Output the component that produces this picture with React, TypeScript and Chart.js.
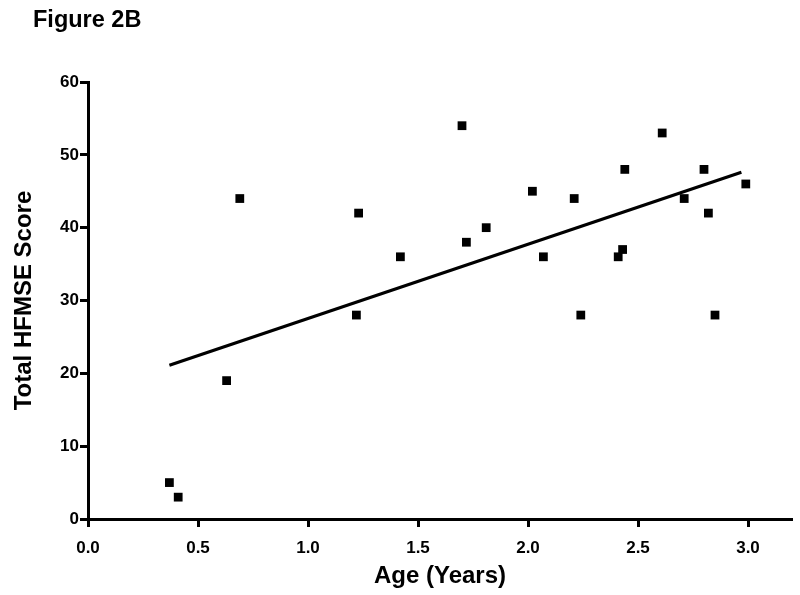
import React, { useEffect, useRef } from "react";
import { Chart, registerables } from "chart.js";

Chart.register(...registerables);

const ageYears = [0.37, 0.41, 0.63, 0.69, 1.22, 1.23, 1.42, 1.70, 1.72, 1.81, 2.02, 2.07, 2.21, 2.24, 2.41, 2.43, 2.44, 2.61, 2.71, 2.80, 2.82, 2.85, 2.99];
const hfmseScore = [5, 3, 19, 44, 28, 42, 36, 54, 38, 40, 45, 36, 44, 28, 36, 37, 48, 53, 44, 48, 42, 28, 46];
const fitLineX = [0.37, 2.97];
const fitLineY = [21.1, 47.6];

const titleText = "Figure 2B";
const xTitle = "Age (Years)";
const yTitle = "Total HFMSE Score";
const xMin = 0, xMax = 3.2, xStep = 0.5, xLastTick = 3.0;
const yMin = 0, yMax = 60, yStep = 10;

export default function App() {
  const ref = useRef<HTMLCanvasElement | null>(null);
  useEffect(() => {
    if (!ref.current) return;
    const font = "'Liberation Sans', Arial, Helvetica, sans-serif";
    Chart.defaults.font.family = font;
    Chart.defaults.color = "#000";
    const figureTitle = {
      id: "figureTitle",
      afterDraw(c: any) {
        const ctx = c.ctx;
        ctx.save();
        ctx.font = `bold 23.5px ${font}`;
        ctx.fillStyle = "#000";
        ctx.textAlign = "left";
        ctx.textBaseline = "alphabetic";
        ctx.fillText(titleText, 33, 27);
        ctx.restore();
      },
    };
    const chart = new Chart(ref.current, {
      type: "scatter",
      data: {
        datasets: [
          {
            type: "scatter",
            data: ageYears.map((x, i) => ({ x, y: hfmseScore[i] })),
            pointStyle: "rect",
            pointRadius: 6.2,
            backgroundColor: "#000",
            borderWidth: 0,
          },
          {
            type: "line",
            data: fitLineX.map((x, i) => ({ x, y: fitLineY[i] })),
            borderColor: "#000",
            borderWidth: 3.2,
            pointRadius: 0,
            fill: false,
          },
        ],
      },
      plugins: [figureTitle],
      options: {
        animation: false,
        responsive: false,
        devicePixelRatio: 1,
        layout: { padding: { left: 0, right: 8, top: 82, bottom: 0 } },
        plugins: {
          legend: { display: false },
          tooltip: { enabled: false },
          title: { display: false },
        },
        scales: {
          x: {
            type: "linear",
            min: xMin,
            max: xMax,
            bounds: "data",
            border: { display: true, color: "#000", width: 3 },
            grid: { display: true, drawOnChartArea: false, drawTicks: true, tickLength: 8, tickWidth: 3, tickColor: "#000" },
            ticks: {
              stepSize: xStep,
              includeBounds: false,
              autoSkip: false,
              maxRotation: 0,
              padding: 11,
              font: { size: 17, weight: "bold", family: font },
              color: "#000",
              callback: (v: any) => Number(v).toFixed(1),
            },
            afterBuildTicks: (scale: any) => {
              scale.ticks = scale.ticks.filter((t: any) => t.value <= xLastTick + 1e-9);
            },
            title: {
              display: true,
              text: xTitle,
              font: { size: 24, weight: "bold", family: font },
              color: "#000",
              padding: { top: 0, bottom: 4 },
            },
            afterFit: (scale: any) => {
              scale.height = 76;
            },
          },
          y: {
            type: "linear",
            min: yMin,
            max: yMax,
            bounds: "data",
            border: { display: true, color: "#000", width: 3 },
            grid: { display: true, drawOnChartArea: false, drawTicks: true, tickLength: 8, tickWidth: 3, tickColor: "#000" },
            ticks: {
              stepSize: yStep,
              includeBounds: false,
              padding: 1,
              font: { size: 17, weight: "bold", family: font },
              color: "#000",
            },
            title: {
              display: true,
              text: yTitle,
              font: { size: 24, weight: "bold", family: font },
              color: "#000",
              padding: { top: 10, bottom: 0 },
            },
            afterFit: (scale: any) => {
              scale.width = 88;
            },
          },
        },
      },
    });
    return () => chart.destroy();
  }, []);
  return (
    <div style={{ position: "fixed", left: 0, top: 0, width: 800, height: 595, background: "#fff" }}>
      <canvas ref={ref} width={800} height={595} style={{ display: "block", width: 800, height: 595 }} />
    </div>
  );
}
